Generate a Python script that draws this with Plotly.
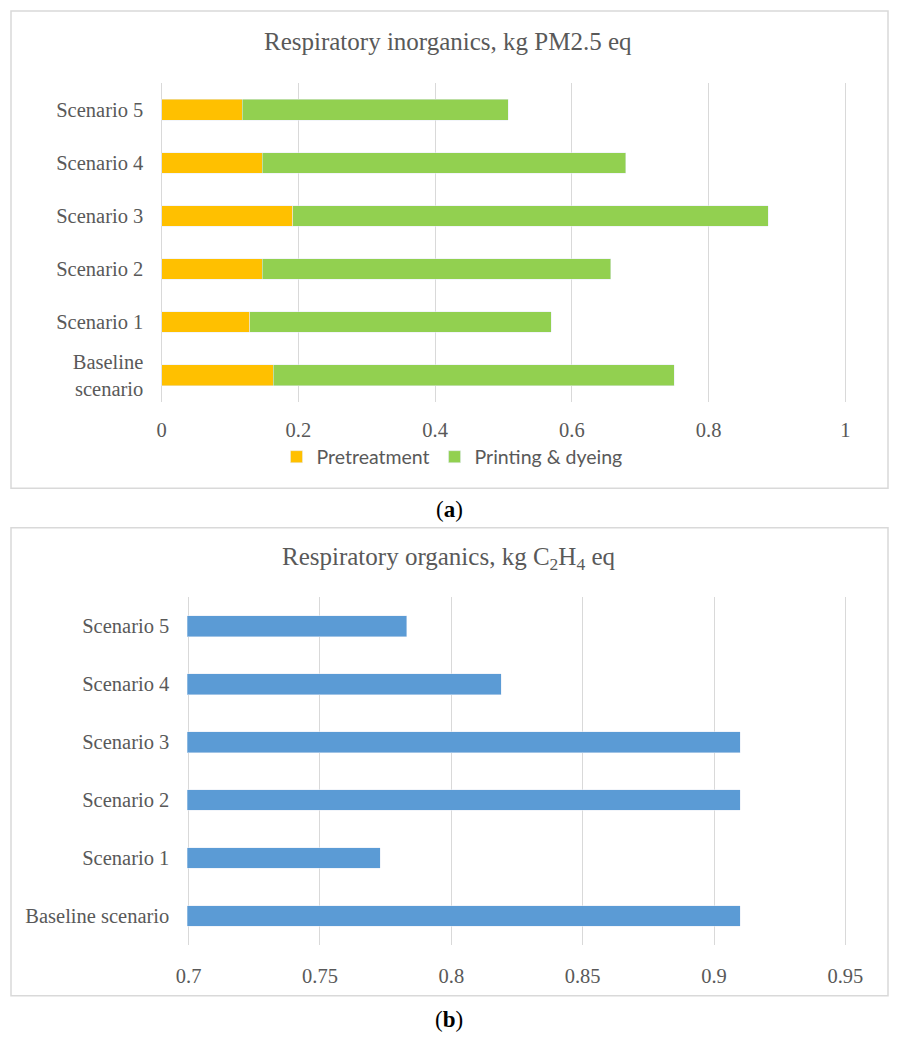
import plotly.graph_objects as go

W, H = 898, 1041
# the page body adds an 8px margin around the figure div
OFF = 8

scenarios_a = ["Baseline<br>scenario", "Scenario 1", "Scenario 2", "Scenario 3", "Scenario 4", "Scenario 5"]
pretreatment = [0.163, 0.129, 0.147, 0.192, 0.147, 0.118]
printing_dyeing = [0.587, 0.441, 0.510, 0.695, 0.532, 0.389]

scenarios_b = ["Baseline scenario", "Scenario 1", "Scenario 2", "Scenario 3", "Scenario 4", "Scenario 5"]
organics = [0.910, 0.773, 0.910, 0.910, 0.819, 0.783]

ticks_a = [0, 0.2, 0.4, 0.6, 0.8, 1]
ticks_b = [0.7, 0.75, 0.8, 0.85, 0.9, 0.95]


def px_x(v):
    return (v - OFF) / W


def px_y(v):
    return 1 - (v - OFF) / H


GRAY = "#595959"
GRID = "#d9d9d9"
SERIF = "Liberation Serif"

fig = go.Figure()

fig.add_trace(go.Bar(y=scenarios_a, x=pretreatment, name="Pretreatment", orientation="h",
                     marker_color="#FFC000", width=0.39, xaxis="x", yaxis="y"))
fig.add_trace(go.Bar(y=scenarios_a, x=printing_dyeing, name="Printing & dyeing", orientation="h",
                     marker_color="#92D050", width=0.39, xaxis="x", yaxis="y"))
fig.add_trace(go.Bar(y=scenarios_b, x=organics, name="organics", orientation="h",
                     marker_color="#5B9BD5", width=0.357, xaxis="x2", yaxis="y2",
                     showlegend=False))

axis_common = dict(showgrid=True, gridcolor=GRID, gridwidth=1, zeroline=False, showline=False,
                   tickfont=dict(family=SERIF, size=20.5, color=GRAY), fixedrange=True,
                   automargin=False)

fig.update_layout(
    width=W, height=H, autosize=False,
    margin=dict(l=0, r=0, t=0, b=0, pad=0),
    paper_bgcolor="white", plot_bgcolor="white",
    barmode="stack",
    font=dict(family=SERIF, color=GRAY),
    xaxis=dict(domain=[px_x(160.3), px_x(846.8)], range=[-0.002, 1.002], tickvals=ticks_a,
               ticktext=[str(t) for t in ticks_a], anchor="y", ticklabelstandoff=14, **axis_common),
    yaxis=dict(domain=[px_y(401.7), px_y(83.3)], type="category", categoryorder="array",
               categoryarray=scenarios_a, anchor="x", showgrid=False, zeroline=False, automargin=False,
               tickfont=dict(family=SERIF, size=20.5, color=GRAY), ticklabelstandoff=16),
    xaxis2=dict(domain=[px_x(187.3), px_x(846.7)], range=[0.6995, 0.9505], tickvals=ticks_b,
                ticktext=[str(t) for t in ticks_b], anchor="y2", ticklabelstandoff=16, **axis_common),
    yaxis2=dict(domain=[px_y(945), px_y(597.3)], type="category", categoryorder="array",
                categoryarray=scenarios_b, anchor="x2", showgrid=False, zeroline=False, automargin=False,
                tickfont=dict(family=SERIF, size=20.5, color=GRAY), ticklabelstandoff=17),
    legend=dict(orientation="h", x=px_x(452), xanchor="center", y=px_y(457), yanchor="middle",
                font=dict(family="Lato", size=19.5, color=GRAY), traceorder="normal",
                bgcolor="rgba(0,0,0,0)"),
    showlegend=True,
)

# panel frames
for top, bottom in [(11, 488.3), (527.7, 995.7)]:
    fig.add_shape(type="rect", xref="paper", yref="paper",
                  x0=px_x(11), x1=px_x(888), y0=px_y(bottom), y1=px_y(top),
                  line=dict(color=GRID, width=1.5), fillcolor="rgba(0,0,0,0)", layer="below")

fig.add_annotation(text="Respiratory inorganics, kg PM2.5 eq", x=px_x(448), y=px_y(41.5),
                   xref="paper", yref="paper", showarrow=False, xanchor="center", yanchor="middle",
                   font=dict(family=SERIF, size=25, color=GRAY))
fig.add_annotation(text="Respiratory organics, kg C<sub>2</sub>H<sub>4</sub> eq", x=px_x(448), y=px_y(558),
                   xref="paper", yref="paper", showarrow=False, xanchor="center", yanchor="middle",
                   font=dict(family=SERIF, size=25, color=GRAY))

fig.add_annotation(text="(<b>a</b>)", x=px_x(449), y=px_y(510), xref="paper", yref="paper",
                   showarrow=False, xanchor="center", yanchor="middle",
                   font=dict(family=SERIF, size=23, color="black"))
fig.add_annotation(text="(<b>b</b>)", x=px_x(449), y=px_y(1019), xref="paper", yref="paper",
                   showarrow=False, xanchor="center", yanchor="middle",
                   font=dict(family=SERIF, size=23, color="black"))

fig.write_html("out.html")
